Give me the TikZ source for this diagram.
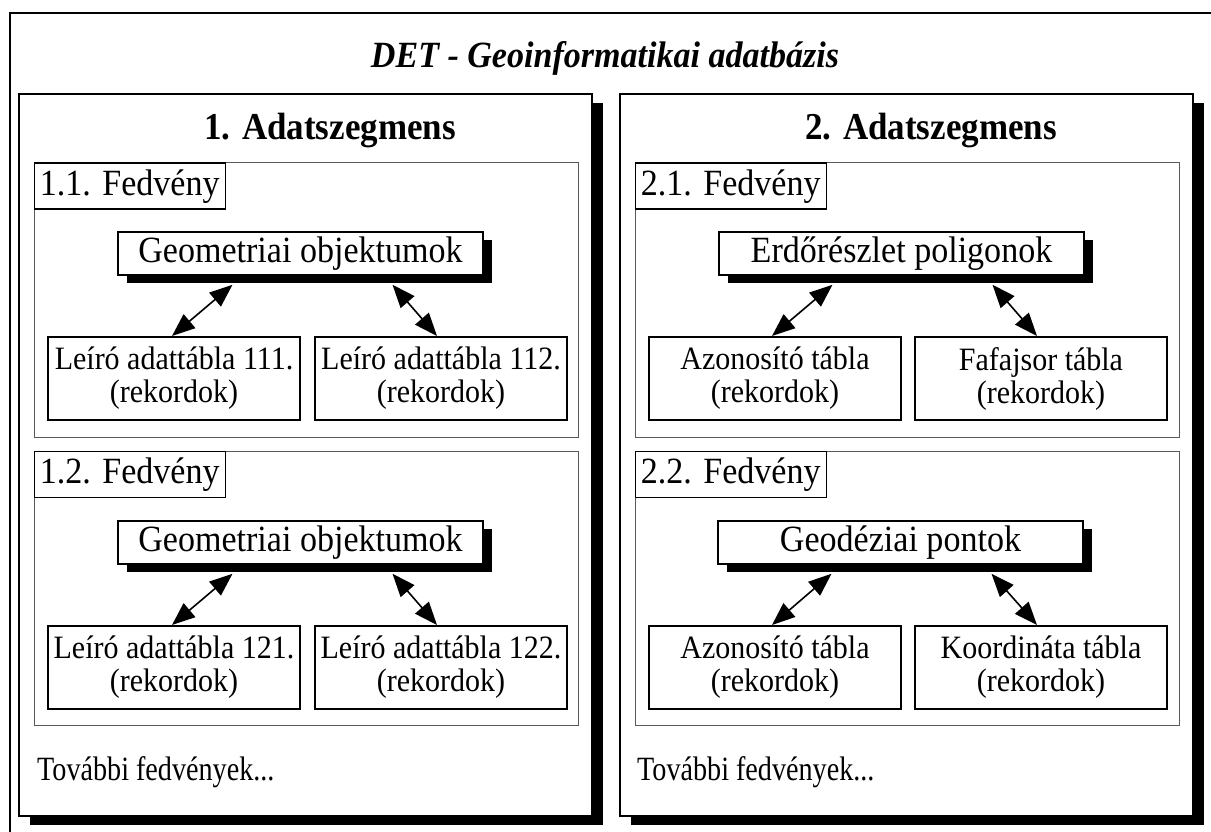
\documentclass[tikz,border=0pt]{standalone}
\usepackage{fontspec}
\setmainfont{Liberation Serif}[FakeStretch=0.92]
\usetikzlibrary{arrows.meta,shadows}
\newcommand\fszT{\fontsize{37}{40}\selectfont}
\newcommand\fszH{\fontsize{38}{40}\selectfont}
\newcommand\fszA{\fontsize{37}{40}\selectfont}
\newcommand\fszB{\fontsize{32.6}{33}\selectfont}
\newcommand\fszC{\fontsize{34}{38}\selectfont}
\begin{document}
\begin{tikzpicture}[x=1pt,y=-1pt,
  seg/.style={draw, line width=2pt, fill=white, minimum width=573pt, minimum height=722pt, inner sep=0pt,
    drop shadow={shadow xshift=11pt, shadow yshift=-9pt, opacity=1, fill=black}},
  pane/.style={draw=black!65, line width=1pt, minimum width=544pt, minimum height=274pt, inner sep=0pt},
  lbl/.style={draw, line width=1.5pt, fill=white, anchor=north west, minimum height=46pt, minimum width=191pt, inner xsep=5pt, inner ysep=0pt, font=\fszA},
  mainbox/.style={draw, line width=1.5pt, fill=white, minimum width=365pt, minimum height=43pt, inner sep=0pt, font=\fszA,
    drop shadow={shadow xshift=9pt, shadow yshift=-8pt, opacity=1, fill=black}},
  tbl/.style={draw, line width=2pt, fill=white, minimum width=252pt, minimum height=83pt, inner sep=0pt, align=center, font=\fszB},
  link/.style={{Triangle[length=23pt,width=18pt]}-{Triangle[length=23pt,width=18pt]}, line width=1.6pt},
  txt/.style={inner sep=0pt}
]
\useasboundingbox (0,0) rectangle (1211,832);
\clip (0,0) rectangle (1211,832);
\fill[white] (0,0) rectangle (1211,832);
\draw[line width=2pt] (10,13) rectangle (1260,880);

\node[txt, font=\fszT, anchor=base] (title) at (605,68) {\textbf{\textit{DET - Geoinformatikai adatbázis}}};

% segments
\node[seg] (seg1) at (305.5,455) {};
\node[seg] (seg2) at (906.5,455) {};
\node[txt, font=\fszH, anchor=base] (h1) at (330,140) {\textbf{1. Adatszegmens}};
\node[txt, font=\fszH, anchor=base] (h2) at (931,140) {\textbf{2. Adatszegmens}};

% panels
\node[pane] (p11) at (306,300) {};
\node[pane] (p12) at (306,588) {};
\node[pane] (p21) at (907,300) {};
\node[pane] (p22) at (907,588) {};

\node[lbl] (l11) at (p11.north west) {1.1. Fedvény};
\node[lbl] (l12) at (p12.north west) {1.2. Fedvény};
\node[lbl] (l21) at (p21.north west) {2.1. Fedvény};
\node[lbl] (l22) at (p22.north west) {2.2. Fedvény};

% main objects
\node[mainbox] (g11) at (300.5,253.5) {Geometriai objektumok};
\node[mainbox] (g12) at (300.5,542.5) {Geometriai objektumok};
\node[mainbox] (e21) at (901.5,253.5) {Erdőrészlet poligonok};
\node[mainbox] (g22) at (900.5,542.5) {Geodéziai pontok};

% tables
\node[tbl] (t111) at (174,378.5) {Leíró adattábla 111.\\(rekordok)};
\node[tbl] (t112) at (441,378.5) {Leíró adattábla 112.\\(rekordok)};
\node[tbl] (t121) at (174,667.5) {Leíró adattábla 121.\\(rekordok)};
\node[tbl] (t122) at (441,667.5) {Leíró adattábla 122.\\(rekordok)};
\node[tbl] (t211) at (775,378.5) {Azonosító tábla\\(rekordok)};
\node[tbl] (t212) at (1041,378.5) {Fafajsor tábla\\(rekordok)};
\node[tbl] (t221) at (775,667.5) {Azonosító tábla\\(rekordok)};
\node[tbl] (t222) at (1041,667.5) {Koordináta tábla\\(rekordok)};

% links
\draw[link] ([xshift=-68pt,yshift=-9pt]g11.south) -- ([xshift=-2pt]t111.north);
\draw[link] ([xshift=92pt,yshift=-9pt]g11.south) -- ([xshift=-4pt]t112.north);
\draw[link] ([xshift=-68pt,yshift=-9pt]g12.south) -- ([xshift=-2pt]t121.north);
\draw[link] ([xshift=92pt,yshift=-9pt]g12.south) -- ([xshift=-4pt]t122.north);
\draw[link] ([xshift=-69pt,yshift=-9pt]e21.south) -- ([xshift=-3pt]t211.north);
\draw[link] ([xshift=91pt,yshift=-9pt]e21.south) -- ([xshift=-4pt]t212.north);
\draw[link] ([xshift=-69pt,yshift=-9pt]g22.south) -- ([xshift=-3pt]t221.north);
\draw[link] ([xshift=91pt,yshift=-9pt]g22.south) -- ([xshift=-4pt]t222.north);

\node[txt, font=\fszC, anchor=base west] (m1) at (37,780) {\scalebox{0.9}[1]{További fedvények...}};
\node[txt, font=\fszC, anchor=base west] (m2) at (637,780) {\scalebox{0.9}[1]{További fedvények...}};
\end{tikzpicture}
\end{document}
